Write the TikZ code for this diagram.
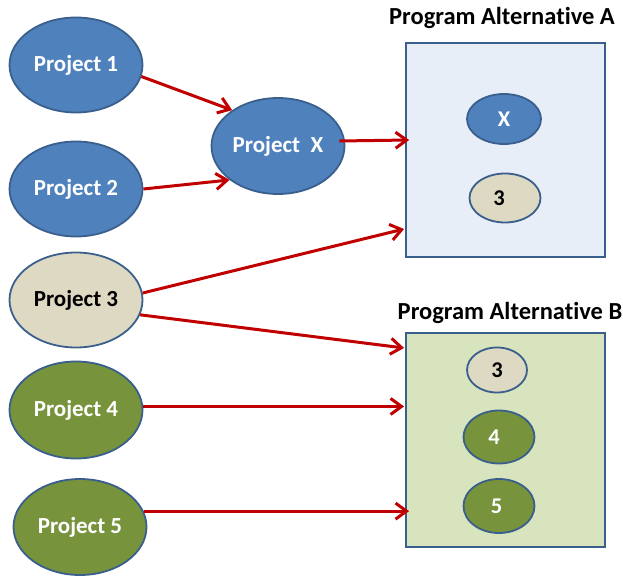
\documentclass[tikz,border=0pt]{standalone}
\usepackage{fontspec}
\setmainfont{Carlito}[Ligatures=NoCommon]
\usetikzlibrary{arrows.meta,shapes.geometric,calc}
\definecolor{pblue}{HTML}{4F81BD}
\definecolor{edgeblue}{HTML}{3A5F8D}
\definecolor{ptan}{HTML}{DDD9C3}
\definecolor{pgreen}{HTML}{77933C}
\definecolor{boxafill}{HTML}{E8EEF8}
\definecolor{boxbfill}{HTML}{D7E4BD}
\definecolor{ared}{HTML}{C00000}
\begin{document}
\begin{tikzpicture}[x=1pt,y=-1pt,
  proj/.style={ellipse,draw=edgeblue,line width=1.8pt,inner sep=0pt,font=\fontsize{23}{27}\selectfont\bfseries},
  big/.style={proj,minimum width=133pt,minimum height=95pt},
  small/.style={proj,font=\fontsize{22.5}{26}\selectfont\bfseries},
  blueball/.style={fill=pblue,text=white},
  tanball/.style={fill=ptan,text=black},
  greenball/.style={fill=pgreen,text=white},
  altbox/.style={draw=edgeblue,line width=1.8pt,minimum width=199pt,minimum height=214pt,inner sep=0pt},
  titletext/.style={font=\fontsize{24.5}{28}\selectfont\bfseries,anchor=base,inner sep=0pt},
  arr/.style={draw=ared,line width=3pt,-{Straight Barb[length=11pt,width=16pt]}}
]
\useasboundingbox (0,0) rectangle (623,577);

% program boxes
\node[altbox,fill=boxafill] (boxA) at (505.5,150) {};
\node[altbox,fill=boxbfill] (boxB) at (505.5,440) {};
\node[titletext] (titleA) at (502,25) {Program Alternative A};
\node[titletext] (titleB) at (510,319) {Program Alternative B};

% projects
\node[big,blueball] (p1) at (76,65) {Project 1};
\node[big,blueball] (p2) at (76,189) {Project 2};
\node[big,blueball,minimum height=96pt] (px) at (278,146) {Project\ \ X};
\node[big,tanball] (p3) at (76,300) {Project 3};
\node[big,greenball,minimum height=97pt] (p4) at (76,410) {Project 4};
\node[big,greenball,minimum height=96pt] (p5) at (80,527) {Project 5};

% contents of A
\node[small,blueball,minimum width=74pt,minimum height=50pt] (ax) at (504,119) {\raisebox{-3pt}{X}};
\node[small,tanball,minimum width=71pt,minimum height=49pt] (a3) at (505,198) {\hspace*{-12pt}\raisebox{-6pt}{3}};

% contents of B
\node[small,tanball,minimum width=60pt,minimum height=45pt] (b3) at (497,370) {\raisebox{-3pt}{3}};
\node[small,greenball,minimum width=71pt,minimum height=53pt] (b4) at (499,437) {\hspace*{-10pt}4};
\node[small,greenball,minimum width=71pt,minimum height=54pt] (b5) at (499,506) {\hspace*{-5pt}5};

% connectors
\draw[arr] (p1.-10) -- (px.142);
\draw[arr] (p2.east) -- (px.215);
\draw[arr] ($(px.east)+(-6,-5)$) -- ($(boxA.west)+(4,-10)$);
\draw[arr] (p3.6) -- ($(boxA.west)+(-1,79)$);
\draw[arr] (p3.-13) -- ($(boxB.west)+(-1,-92)$);
\draw[arr] (p4.3) -- ($(p4.3 -| boxB.west)+(-1,0)$);
\draw[arr] (p5.14) -- ($(p5.14 -| boxB.west)+(4,0)$);
\end{tikzpicture}
\end{document}
